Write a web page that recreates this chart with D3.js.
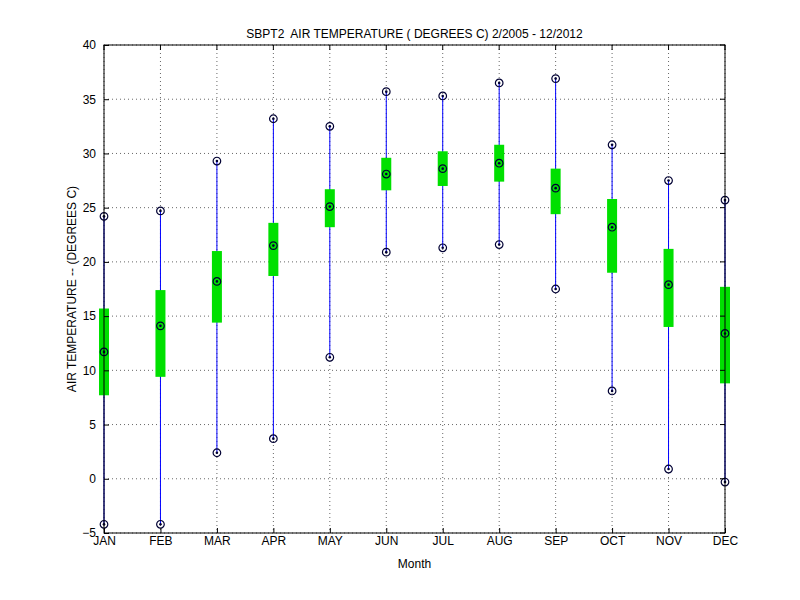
<!DOCTYPE html>
<html>
<head>
<meta charset="utf-8">
<script src="https://cdn.jsdelivr.net/npm/d3@7"></script>
<style>
body { margin: 0; background: #fff; }
text { font-family: "Liberation Sans", Arial, sans-serif; }
</style>
</head>
<body>
<div id="chart"></div>
<script>
var w = 800, h = 600;
var padLeft = 104, padRight = 725, padTop = 45, padBottom = 533;

var months = ["JAN","FEB","MAR","APR","MAY","JUN","JUL","AUG","SEP","OCT","NOV","DEC"];
var maxVals  = [24.2, 24.7, 29.3, 33.2, 32.5, 35.7, 35.3, 36.5, 36.9, 30.8, 27.5, 25.7];
var minVals  = [-4.2, -4.2, 2.4, 3.7, 11.2, 20.9, 21.3, 21.6, 17.5, 8.1, 0.9, -0.3];
var meanVals = [11.7, 14.1, 18.2, 21.5, 25.1, 28.1, 28.6, 29.1, 26.8, 23.2, 17.9, 13.4];
var boxLow   = [7.7, 9.4, 14.4, 18.7, 23.2, 26.6, 27.0, 27.4, 24.4, 19.0, 14.0, 8.8];
var boxHigh  = [15.7, 17.4, 21.0, 23.6, 26.7, 29.6, 30.2, 30.8, 28.6, 25.8, 21.2, 17.7];
var yTicks = [-5, 0, 5, 10, 15, 20, 25, 30, 35, 40];

var svg = d3.select("#chart").append("svg").attr("width", w).attr("height", h);

var x = d3.scalePoint().domain(months).range([padLeft, padRight]);
var y = d3.scaleLinear().domain([-5, 40]).range([padBottom, padTop]);

// grid
svg.append("g").selectAll("line").data(months).enter().append("line")
    .attr("x1", d => x(d)).attr("x2", d => x(d)).attr("y1", padTop).attr("y2", padBottom)
    .attr("stroke", "#000").attr("stroke-dasharray", "1,3").attr("stroke-width", 0.6);
svg.append("g").selectAll("line").data(yTicks).enter().append("line")
    .attr("x1", padLeft).attr("x2", padRight).attr("y1", d => y(d)).attr("y2", d => y(d))
    .attr("stroke", "#000").attr("stroke-dasharray", "1,3").attr("stroke-width", 0.6);

// whiskers
svg.append("g").selectAll("line").data(months).enter().append("line")
    .attr("x1", d => x(d)).attr("x2", d => x(d))
    .attr("y1", (d, i) => y(minVals[i])).attr("y2", (d, i) => y(maxVals[i]))
    .attr("stroke", "#0000ff").attr("stroke-width", 1);

// boxes
svg.append("g").selectAll("rect").data(months).enter().append("rect")
    .attr("x", d => x(d) - 5).attr("width", 10)
    .attr("y", (d, i) => y(boxHigh[i])).attr("height", (d, i) => y(boxLow[i]) - y(boxHigh[i]))
    .attr("fill", "#00e000");

// markers
var pts = [];
months.forEach(function (m, i) {
    [maxVals[i], minVals[i], meanVals[i]].forEach(v => pts.push({ m: m, v: v }));
});
var mk = svg.append("g").selectAll("g").data(pts).enter().append("g")
    .attr("transform", d => "translate(" + x(d.m) + "," + y(d.v) + ")");
mk.append("circle").attr("r", 3.8).attr("fill", "none").attr("stroke", "#000033").attr("stroke-width", 1.2);
mk.append("circle").attr("r", 1.3).attr("fill", "#000033");

// frame
svg.append("rect").attr("x", padLeft).attr("y", padTop).attr("width", padRight - padLeft).attr("height", padBottom - padTop)
    .attr("fill", "none").attr("stroke", "#000");

// axes
var xAxis = d3.axisBottom(x).tickSizeInner(-5).tickSizeOuter(0).tickPadding(8);
var yAxis = d3.axisLeft(y).tickValues(yTicks).tickSizeInner(-5).tickSizeOuter(0).tickPadding(8);
var gx = svg.append("g").attr("transform", "translate(0," + padBottom + ")").call(xAxis);
var gy = svg.append("g").attr("transform", "translate(" + padLeft + ",0)").call(yAxis);
[gx, gy].forEach(function (g) {
    g.select(".domain").remove();
    g.selectAll("text").attr("font-size", "12px").attr("fill", "#000");
});
gx.selectAll("text").attr("dy", "0.3em");
// ticks at top/right too
svg.append("g").selectAll("line").data(months).enter().append("line")
    .attr("x1", d => x(d)).attr("x2", d => x(d)).attr("y1", padTop).attr("y2", padTop + 5).attr("stroke", "#000");
svg.append("g").selectAll("line").data(yTicks).enter().append("line")
    .attr("x1", padRight - 5).attr("x2", padRight).attr("y1", d => y(d)).attr("y2", d => y(d)).attr("stroke", "#000");

// labels
svg.append("text").attr("x", (padLeft + padRight) / 2).attr("y", 38).attr("text-anchor", "middle")
    .attr("font-size", "12px").attr("xml:space", "preserve")
    .text("SBPT2  AIR TEMPERATURE ( DEGREES C) 2/2005 - 12/2012");
svg.append("text").attr("x", (padLeft + padRight) / 2).attr("y", 568).attr("text-anchor", "middle")
    .attr("font-size", "12px").text("Month");
svg.append("text").attr("transform", "translate(76," + (padTop + padBottom) / 2 + ") rotate(-90)")
    .attr("text-anchor", "middle").attr("font-size", "12px")
    .text("AIR TEMPERATURE -- (DEGREES C)");
</script>
</body>
</html>
